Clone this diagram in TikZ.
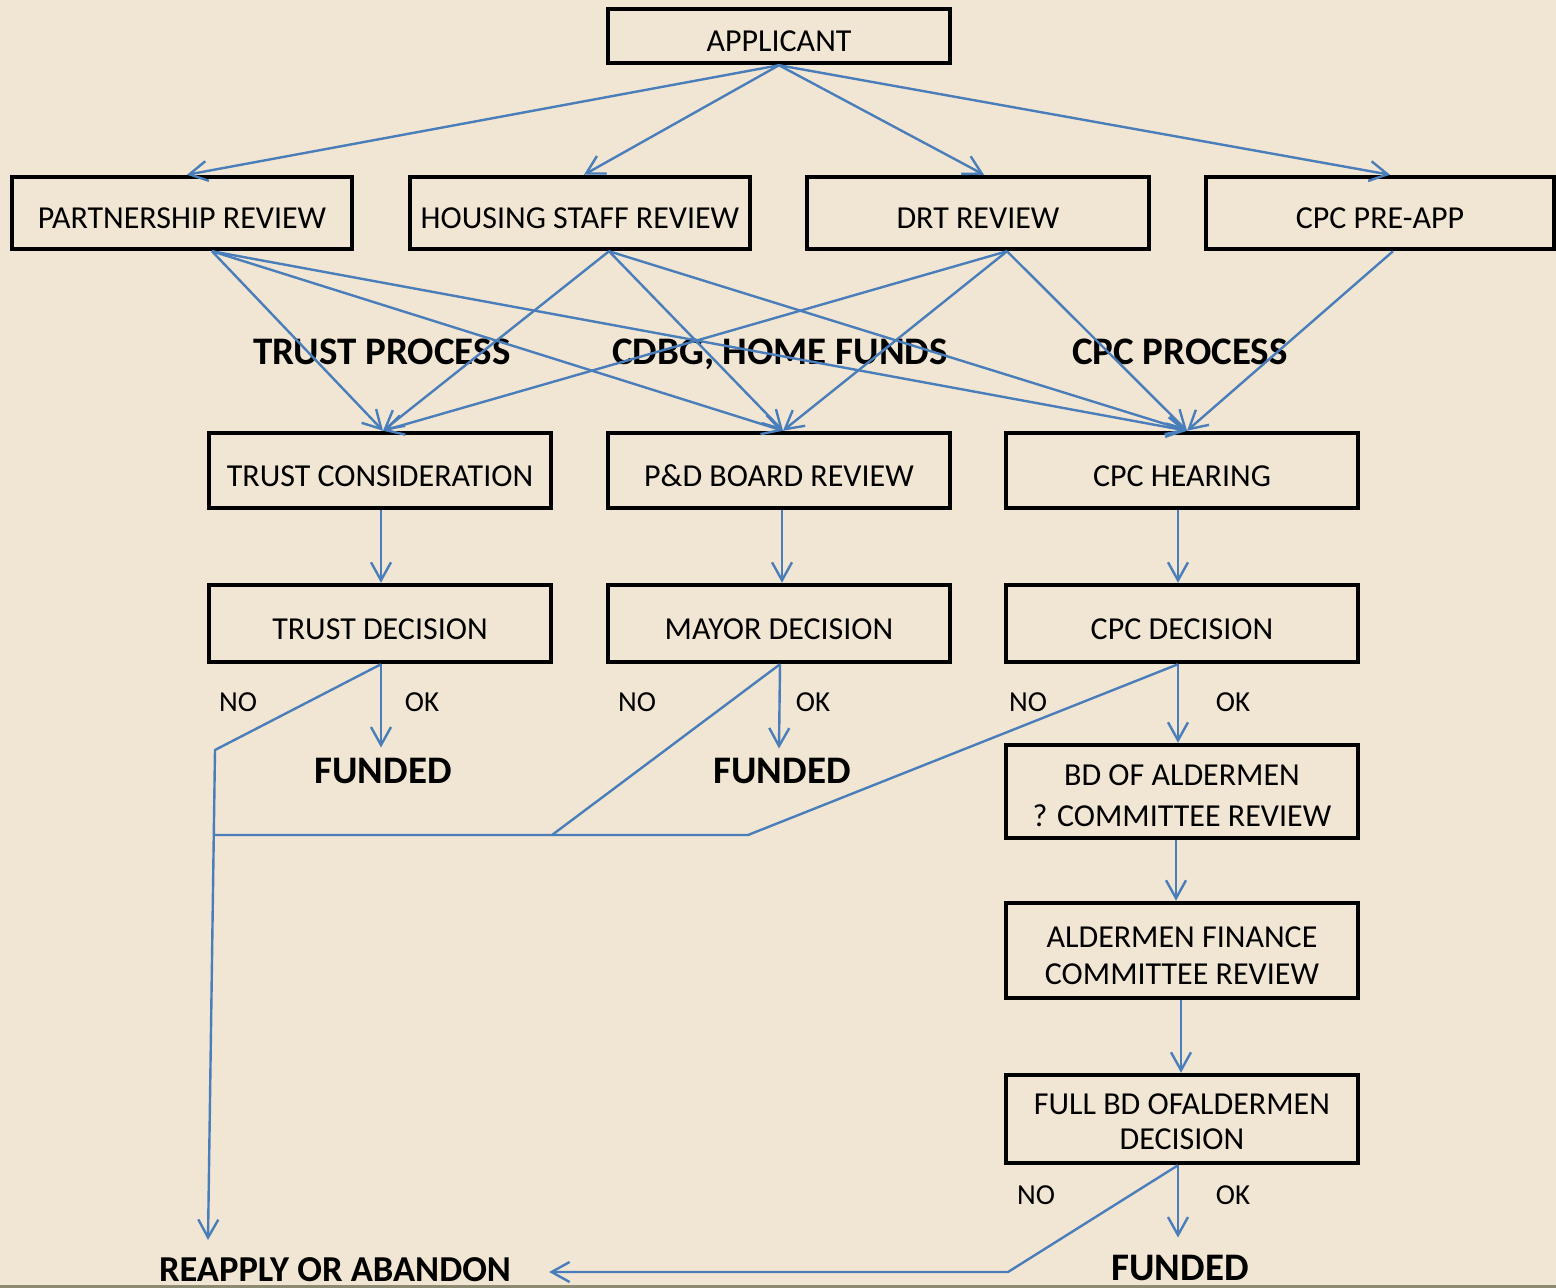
\documentclass[tikz,border=0pt]{standalone}
\usepackage{fontspec}
\setmainfont{Carlito}
\usetikzlibrary{calc,arrows.meta,positioning}
\definecolor{paper}{RGB}{241,230,211}
\definecolor{flow}{RGB}{74,126,187}
\definecolor{rim}{RGB}{140,138,112}

\begin{document}
\begin{tikzpicture}[x=1pt,y=-1pt,
  box/.style={draw=black,line width=4.5pt,inner sep=0pt,align=center,
    font=\fontsize{32}{38}\selectfont},
  one/.style={box,text height=31pt,text depth=0pt},
  lbl/.style={inner sep=0pt,anchor=base,font=\fontsize{39}{44}\selectfont\bfseries},
  tag/.style={inner sep=0pt,anchor=base,font=\fontsize{29}{32}\selectfont},
  conn/.style={draw=flow,line width=2.4pt,line join=round},
  arr/.style={conn,-{Straight Barb[length=18pt,width=20pt]}}]

  %% Paper
  \fill[paper] (0,0) rectangle (1556,1288);
  \fill[rim] (0,1285) rectangle (1556,1288);
  \useasboundingbox (0,0) rectangle (1556,1288);

  %% Applicant and the four reviews
  \node[one,minimum width=342pt,minimum height=54pt] (APP) at (779,36) {APPLICANT};
  \foreach \n/\x/\w/\t in {PR/182/340/PARTNERSHIP REVIEW, HS/580/340/HOUSING STAFF REVIEW,
                           DRT/978/342/DRT REVIEW, PRE/1380/348/CPC PRE-APP}
  {
    \node[one,minimum width=\w pt,minimum height=72pt] (\n) at (\x,213) {\t};
  }

  %% Process headings
  \node[lbl] (TP)  at (382,364) {TRUST PROCESS};
  \node[lbl] (HF)  at (780,364) {CDBG, HOME FUNDS};
  \node[lbl] (CPP) at (1180,364) {CPC PROCESS};

  %% Consideration and decision rows
  \foreach \n/\x/\w/\t in {TC/380/342/TRUST CONSIDERATION, PD/779/342/P\&D BOARD REVIEW,
                           CH/1182/352/CPC HEARING}
  {
    \node[one,minimum width=\w pt,minimum height=75pt] (\n) at (\x,470.5) {\t};
  }
  \foreach \n/\x/\w/\t in {TD/380/342/TRUST DECISION, MD/779/342/MAYOR DECISION,
                           CD/1182/352/CPC DECISION}
  {
    \node[one,minimum width=\w pt,minimum height=77pt] (\n) at (\x,623.5) {\t};
  }

  %% Aldermen column
  \node[box,minimum width=352pt,minimum height=93pt,font=\fontsize{32}{41}\selectfont]
    (BA) at (1182,791.5) {\rule{0pt}{30pt}BD OF ALDERMEN\\? COMMITTEE REVIEW};
  \node[box,minimum width=352pt,minimum height=95pt,font=\fontsize{32}{37}\selectfont]
    (AF) at (1182,950.5) {\rule{0pt}{32pt}ALDERMEN FINANCE\\COMMITTEE REVIEW};
  \node[box,minimum width=352pt,minimum height=88pt,font=\fontsize{32}{35}\selectfont]
    (FB) at (1182,1119) {\rule{0pt}{26pt}FULL BD OFALDERMEN\\DECISION};

  %% Outcomes
  \node[lbl] (F1) at (383,783)  {FUNDED};
  \node[lbl] (F2) at (782,783)  {FUNDED};
  \node[lbl] (F3) at (1180,1280) {FUNDED};
  \node[lbl,font=\fontsize{36.5}{40}\selectfont\bfseries] (RA) at (335,1281) {REAPPLY OR ABANDON};
  \foreach \x/\y/\t in {238/711/NO, 422/711/OK, 637/711/NO, 813/711/OK,
                        1028/711/NO, 1233/711/OK, 1036/1204/NO, 1233/1204/OK}
  {
    \node[tag] (T\x) at (\x,\y) {\t};
  }

  %% Applicant fans out
  \foreach \n/\s in {PR/5, HS/4, DRT/6, PRE/10}
    \draw[arr] (APP.south) -- ([xshift=\s pt]\n.north);

  %% Reviews feed every process
  \foreach \f/\a in {PR/30, HS/29, DRT/29}
    \foreach \t/\b in {TC/3, PD/4, CH/5}
      \draw[arr] ([xshift=\a pt]\f.south) -- ([xshift=\b pt]\t.north);
  \draw[arr] ([xshift=13pt]PRE.south) -- ([xshift=5pt]CH.north);

  %% Down the columns
  \draw[arr] ([xshift=1pt]TC.south) -- ([xshift=1pt]TD.north);
  \draw[arr] ([xshift=3pt]PD.south) -- ([xshift=3pt]MD.north);
  \draw[arr] ([xshift=-4pt]CH.south) -- ([xshift=-4pt]CD.north);
  \draw[arr] ([xshift=1pt]TD.south) -- ($(TD.south |- F1.north)+(1,-10)$);
  \draw[arr] ([xshift=1pt]MD.south) -- ($(MD.south |- F2.north)+(0,-9)$);
  \draw[arr] ([xshift=-4pt]CD.south) -- ([xshift=-4pt]BA.north);
  \draw[arr] ([xshift=-6pt]BA.south) -- ([xshift=-6pt]AF.north);
  \draw[arr] ([xshift=-1pt]AF.south) -- ([xshift=-1pt]FB.north);
  \draw[arr] ([xshift=-4pt]FB.south) -- ($(FB.south |- F3.north)+(-4,-17)$);

  %% Refusals
  \coordinate (n1) at (215,750);
  \coordinate (n2) at (208,1240);
  \coordinate (j1) at (213,835);
  \coordinate (j2) at (552,835);
  \coordinate (j3) at (748,835);
  \coordinate (k1) at (1008,1272);
  \draw[arr] ([xshift=1pt]TD.south) -- (n1) -- (n2);
  \draw[conn] ([xshift=1pt]MD.south) -- (j2) -- (j1);
  \draw[conn] ([xshift=-4pt]CD.south) -- (j3) -- (j2);
  \draw[arr] ([xshift=-4pt]FB.south) -- (k1) -- ($(RA.east |- k1)+(38,0)$);
\end{tikzpicture}
\end{document}
